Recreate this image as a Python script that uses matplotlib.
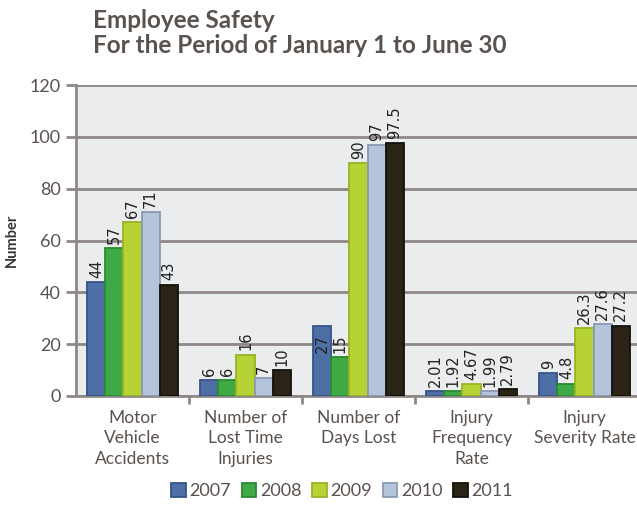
import numpy as np
import matplotlib
matplotlib.use("Agg")
import matplotlib.pyplot as plt

# chart data
categories = ["Motor\nVehicle\nAccidents", "Number of\nLost Time\nInjuries",
              "Number of\nDays Lost", "Injury\nFrequency\nRate", "Injury\nSeverity Rate"]
years = ["2007", "2008", "2009", "2010", "2011"]
vals_2007 = [44, 6, 27, 2.01, 9]
vals_2008 = [57, 6, 15, 1.92, 4.8]
vals_2009 = [67, 16, 90, 4.67, 26.3]
vals_2010 = [71, 7, 97, 1.99, 27.6]
vals_2011 = [43, 10, 97.5, 2.79, 27.2]
label_2007 = ["44", "6", "27", "2.01", "9"]
label_2008 = ["57", "6", "15", "1.92", "4.8"]
label_2009 = ["67", "16", "90", "4.67", "26.3"]
label_2010 = ["71", "7", "97", "1.99", "27.6"]
label_2011 = ["43", "10", "97.5", "2.79", "27.2"]

series = [vals_2007, vals_2008, vals_2009, vals_2010, vals_2011]
labels = [label_2007, label_2008, label_2009, label_2010, label_2011]

fills = ["#4d6fa5", "#3faa45", "#b6d235", "#b4c4da", "#2a2416"]
edges = ["#34548a", "#2a8a30", "#98b322", "#8a9ab4", "#14110a"]

text_col = "#5a524e"
grid_col = "#8e8987"

fig = plt.figure(figsize=(6.37, 5.08), dpi=100)
ax = fig.add_axes([0.1193, 0.2205, 0.887, 0.612])
ax.set_facecolor("#eaeced")

x = np.arange(len(categories))
w = 0.16
for i, (vals, labs) in enumerate(zip(series, labels)):
    pos = x - 0.4 + w * (i + 0.5)
    ax.bar(pos, vals, width=w, color=fills[i], edgecolor=edges[i], linewidth=1.3,
           label=years[i], zorder=3)
    for j, (p, v, t) in enumerate(zip(pos, vals, labs)):
        y = v
        # Excel put the 27 label of Days Lost at the height of its neighbour
        if i == 0 and j == 2:
            y = vals_2008[j]
        ax.annotate(t, (p, y), xytext=(0, 3), textcoords="offset points",
                    rotation=90, ha="center", va="bottom", fontsize=10.5,
                    family="DejaVu Sans", color="#222222", zorder=4)

ax.set_ylim(0, 120)
ax.set_yticks(np.arange(0, 121, 20))
ax.set_xlim(-0.5, len(categories) - 0.5)
ax.set_xticks(x)
ax.set_xticklabels(categories, fontsize=12.5, family="Lato", color=text_col,
                   linespacing=1.35)
ax.set_xticks(np.arange(0.5, len(categories), 1), minor=True)
ax.tick_params(axis="x", which="major", length=0, pad=10)
ax.tick_params(axis="x", which="minor", length=6, width=2, color=grid_col, direction="out")
ax.tick_params(axis="y", length=7, width=2, color=grid_col, pad=4,
               labelsize=13, labelcolor=text_col)
for lab in ax.get_yticklabels():
    lab.set_family("Lato")

ax.yaxis.grid(True, color=grid_col, linewidth=2, zorder=1)
ax.set_axisbelow(True)
for s in ["top", "right"]:
    ax.spines[s].set_visible(False)
for s in ["left", "bottom"]:
    ax.spines[s].set_color(grid_col)
    ax.spines[s].set_linewidth(2)

fig.text(0.146, 1 - 9 / 508, "Employee Safety\nFor the Period of January 1 to June 30",
         ha="left", va="top", fontsize=17.5, fontweight="bold", family="Lato",
         color=text_col, linespacing=1.08)
fig.text(12 / 637, 1 - 240 / 508, "Number", rotation=90, ha="center", va="center",
         fontsize=10.5, fontweight="bold", family="Lato", color="#333333")

fig.legend(loc="center", bbox_to_anchor=(0.537, 0.033), ncol=5, frameon=False,
           prop={"family": "Lato", "size": 13}, handlelength=0.8, handleheight=0.8,
           handletextpad=0.2, columnspacing=0.6, labelcolor=text_col)

fig.savefig("out.png", dpi=100)
